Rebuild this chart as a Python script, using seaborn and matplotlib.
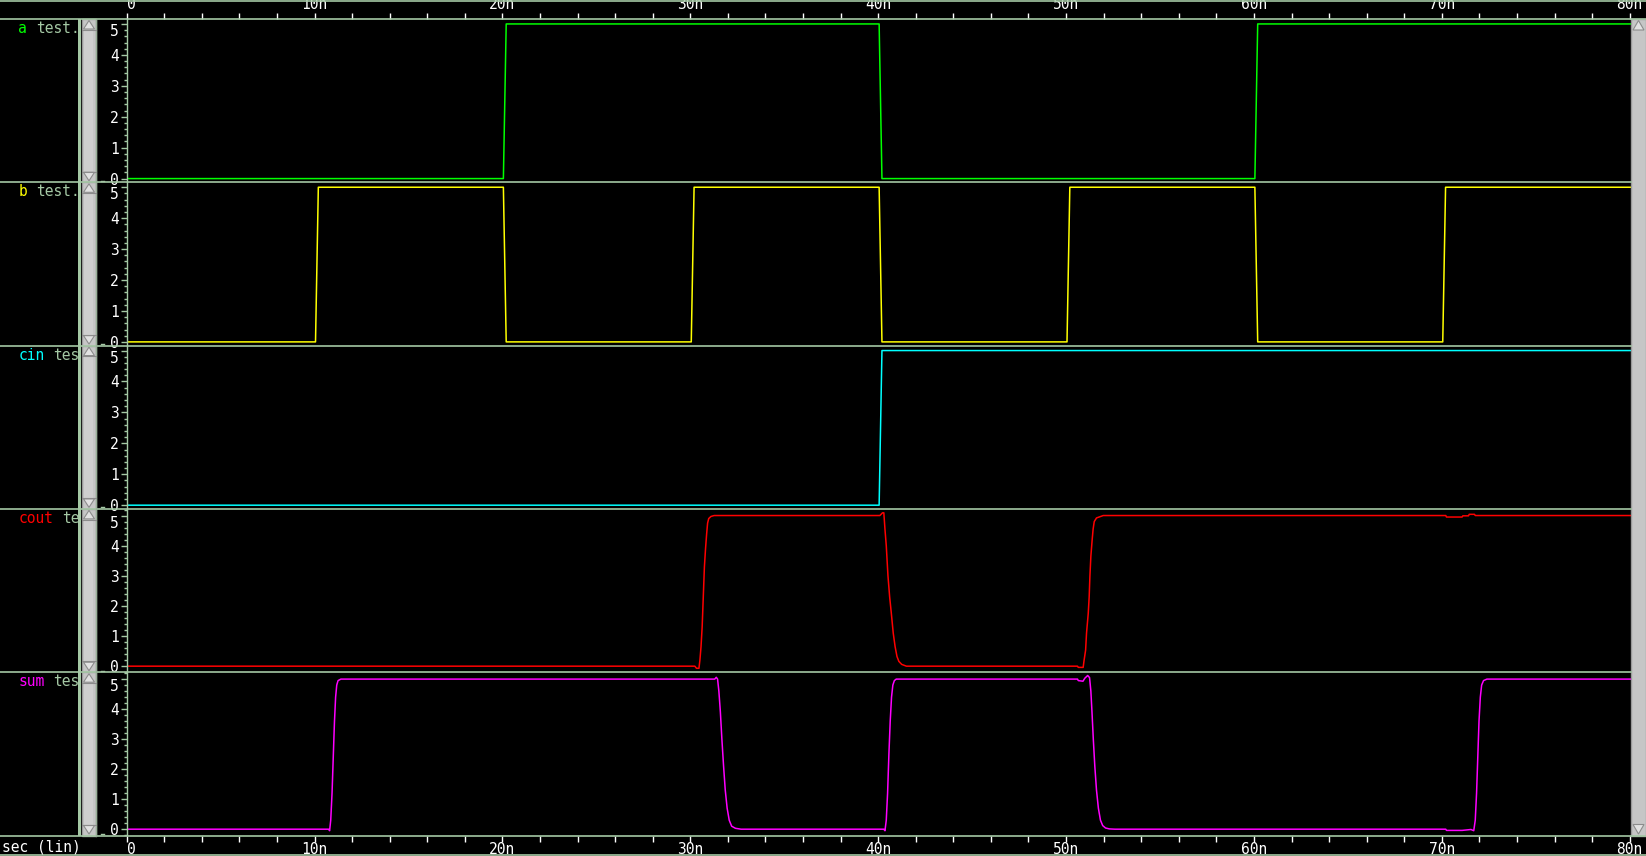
import matplotlib
matplotlib.use('Agg')
import matplotlib.pyplot as plt
import seaborn as sns
from matplotlib.patches import Rectangle, Polygon
from matplotlib.ticker import MultipleLocator

# signals (time in ns, voltage in V)
names = ['a', 'b', 'cin', 'cout', 'sum']
colors = ['#00ff00', '#ffff00', '#00ffff', '#ff0000', '#ff00ff']

t_a = [0, 20.05, 20.2, 40.05, 40.2, 60.05, 60.2, 80.07]
v_a = [0, 0, 5, 5, 0, 0, 5, 5]

t_b = [0, 10.05, 10.2, 20.05, 20.2, 30.05, 30.2, 40.05, 40.2, 50.05, 50.2,
       60.05, 60.2, 70.05, 70.2, 80.07]
v_b = [0, 0, 5, 5, 0, 0, 5, 5, 0, 0, 5, 5, 0, 0, 5, 5]

t_cin = [0, 40.05, 40.2, 80.07]
v_cin = [0, 0, 5, 5]

t_cout = [0, 30.24, 30.33, 30.46, 30.51, 30.57, 30.63, 30.69, 30.75, 30.81, 30.87, 30.92, 30.98, 31.1, 31.27,
          40.09, 40.23, 40.30, 40.36, 40.43, 40.52, 40.61, 40.70, 40.80, 40.90, 41.0, 41.1, 41.25, 41.5,
          50.61, 50.65, 50.91, 50.96, 51.04, 51.09, 51.18, 51.23, 51.27, 51.32, 51.39, 51.44, 51.50, 51.62, 51.98,
          70.21, 70.25, 71.08, 71.12, 71.42, 71.46, 71.74, 71.78, 80.07]
v_cout = [0, 0, -0.07, -0.07, 0.2, 0.65, 1.3, 2.3, 3.3, 3.9, 4.4, 4.75, 4.9, 4.97, 5.0,
          5.0, 5.09, 5.09, 4.55, 4.0, 3.0, 2.3, 1.75, 1.1, 0.65, 0.32, 0.16, 0.06, 0.0,
          0, -0.04, -0.04, 0.2, 0.53, 1.1, 1.75, 2.3, 3.0, 3.65, 4.2, 4.55, 4.8, 4.92, 5.0,
          5.0, 4.95, 4.95, 4.99, 4.99, 5.04, 5.04, 5.0, 5.0]

t_sum = [0, 10.75, 10.8, 10.86, 10.93, 11.0, 11.06, 11.12, 11.18, 11.25, 11.4,
         31.3, 31.38, 31.45, 31.52, 31.6, 31.68, 31.77, 31.86, 31.96, 32.07, 32.2, 32.4, 32.7,
         40.3, 40.36, 40.43, 40.5, 40.57, 40.64, 40.71, 40.78, 40.86, 40.96, 41.15,
         50.61, 50.65, 50.9, 51.0, 51.15, 51.25, 51.32, 51.38, 51.45, 51.53, 51.62, 51.72, 51.83, 51.95,
         52.1, 52.3, 52.6,
         70.21, 70.25, 71.08, 71.55, 71.7, 71.78, 71.85, 71.92, 71.98, 72.05, 72.12, 72.22, 72.4, 80.07]
v_sum = [0, 0, -0.05, 0.3, 1.2, 2.5, 3.6, 4.4, 4.8, 4.95, 5.0,
         5.0, 5.06, 5.0, 4.6, 3.9, 3.0, 2.1, 1.3, 0.7, 0.3, 0.1, 0.03, 0,
         0, -0.05, 0.3, 1.2, 2.5, 3.6, 4.4, 4.8, 4.95, 5.0, 5.0,
         5.0, 4.95, 4.93, 5.03, 5.12, 5.05, 4.6, 3.9, 3.0, 2.1, 1.3, 0.7, 0.3, 0.12,
         0.04, 0.01, 0,
         0, -0.04, -0.04, -0.01, -0.05, 0.3, 1.2, 2.5, 3.6, 4.4, 4.8, 4.95, 5.0, 5.0]

times = [t_a, t_b, t_cin, t_cout, t_sum]
volts = [v_a, v_b, v_cin, v_cout, v_sum]
ylims = [(-0.12, 5.16), (-0.12, 5.16), (-0.12, 5.16), (-0.2, 5.22), (-0.21, 5.23)]

x_major = [0, 10, 20, 30, 40, 50, 60, 70, 80]
x_labels = ['0', '10n', '20n', '30n', '40n', '50n', '60n', '70n', '80n']

plt.rcParams['font.family'] = ['DejaVu Sans Mono']
PALE = '#a4c8a4'
W, H = 1646, 856
x0, x1 = 126.7, 1631
ytop, ybot = 19, 835.5
ph = (ybot - ytop) / 5

fig = plt.figure(figsize=(W / 100, H / 100), dpi=100, facecolor='black')

for i in range(5):
    top = ytop + i * ph
    ax = fig.add_axes([x0 / W, 1 - (top + ph) / H, (x1 - x0) / W, ph / H])
    ax.set_facecolor('black')
    sns.lineplot(x=times[i], y=volts[i], ax=ax, color=colors[i], linewidth=1.1,
                 estimator=None, sort=False)
    ax.set_xlim(0, 80.07)
    ax.set_ylim(*ylims[i])
    ax.set_xlabel('')
    ax.set_ylabel('')
    for s in ['top', 'bottom', 'right']:
        ax.spines[s].set_visible(False)
    ax.spines['left'].set_color(PALE)
    ax.spines['left'].set_linewidth(1.0)
    ax.set_yticks([0, 1, 2, 3, 4, 5])
    ax.yaxis.set_minor_locator(MultipleLocator(0.2))
    ax.tick_params(axis='y', which='major', colors=PALE, labelcolor='white',
                   length=4, width=1, pad=1.5, labelsize=10.5)
    ax.tick_params(axis='y', which='minor', colors=PALE, length=2.5, width=1)
    # top label sits just below its tick so it stays inside the panel
    ax.get_yticklabels()[-1].set_verticalalignment('top')
    ax.set_xticks(x_major)
    ax.xaxis.set_minor_locator(MultipleLocator(2))
    if i == 0 or i == 4:
        if i == 0:
            ax.xaxis.tick_top()
        else:
            ax.xaxis.tick_bottom()
        ax.set_xticklabels(x_labels)
        ax.tick_params(axis='x', which='both', colors='white', length=4.5,
                       width=1, pad=0.5, labelsize=10.5)
        ax.get_xticklabels()[0].set_horizontalalignment('left')
    else:
        ax.tick_params(axis='x', which='both', length=0, labelbottom=False)

# overlay in pixel coordinates for frame lines, scrollbars and names
fg = fig.add_axes([0, 0, 1, 1], zorder=10)
fg.set_xlim(0, W)
fg.set_ylim(H, 0)
fg.set_axis_off()
fg.patch.set_alpha(0)

for y in [0.5, ytop, ybot, H - 1]:
    fg.plot([0, W], [y, y], color=PALE, lw=1.2)
for i in range(1, 5):
    y = ytop + i * ph
    fg.plot([0, x1], [y, y], color=PALE, lw=1.2)

# left scrollbars
fg.add_patch(Rectangle((78, ytop), 3, ybot - ytop, color=PALE, lw=0))
fg.plot([96.5, 96.5], [ytop, ybot], color='#98b098', lw=1)
for i in range(5):
    top = ytop + i * ph
    bot = top + ph
    fg.add_patch(Rectangle((82, top), 14, ph, facecolor='#c6c6c6', edgecolor='#9a9a9a', lw=1))
    fg.add_patch(Rectangle((84, top + 11), 9.5, ph - 22, facecolor='#cfcfcf', edgecolor='none'))
    fg.add_patch(Polygon([(89, top + 1.5), (83.5, top + 10), (94.5, top + 10)],
                         facecolor='#e2e2e2', edgecolor='#8c8c8c', lw=0.8))
    fg.add_patch(Polygon([(89, bot - 1.5), (83.5, bot - 10), (94.5, bot - 10)],
                         facecolor='#e2e2e2', edgecolor='#8c8c8c', lw=0.8))
    fg.plot([82, 96], [top + 10.8, top + 10.8], color='#8c8c8c', lw=0.8)
    fg.plot([82, 96], [bot - 10.8, bot - 10.8], color='#8c8c8c', lw=0.8)
    fg.plot([101, 104], [bot - 1.5, bot - 1.5], color=PALE, lw=1)

# right scrollbar
fg.add_patch(Rectangle((x1, ytop), W - x1, ybot - ytop, facecolor='#c6c6c6', edgecolor='#9a9a9a', lw=1))
fg.add_patch(Polygon([(1638.5, ytop + 1.5), (1633, ytop + 11), (1644, ytop + 11)],
                     facecolor='#e2e2e2', edgecolor='#8c8c8c', lw=0.8))
fg.add_patch(Polygon([(1638.5, ybot - 1.5), (1633, ybot - 11), (1644, ybot - 11)],
                     facecolor='#e2e2e2', edgecolor='#8c8c8c', lw=0.8))

# signal names, clipped at the scrollbar
clip = Rectangle((0, 0), 78, H, transform=fg.transData, visible=False)
fg.add_patch(clip)
cw = 8.78
for i, name in enumerate(names):
    y = ytop + i * ph + 9.5
    fg.text(18.5, y, name, color=colors[i], fontsize=10.5, va='center', ha='left')
    t2 = fg.text(18.5 + (len(name) + 1) * cw, y, 'test.tr0', color=PALE, fontsize=10.5,
                 va='center', ha='left')
    t2.set_clip_path(clip)
    t2.set_clip_on(True)

fg.text(2.5, 846.5, 'sec (lin)', color='white', fontsize=10.5, va='center', ha='left')

fig.savefig('out.png', dpi=100, facecolor='black')
